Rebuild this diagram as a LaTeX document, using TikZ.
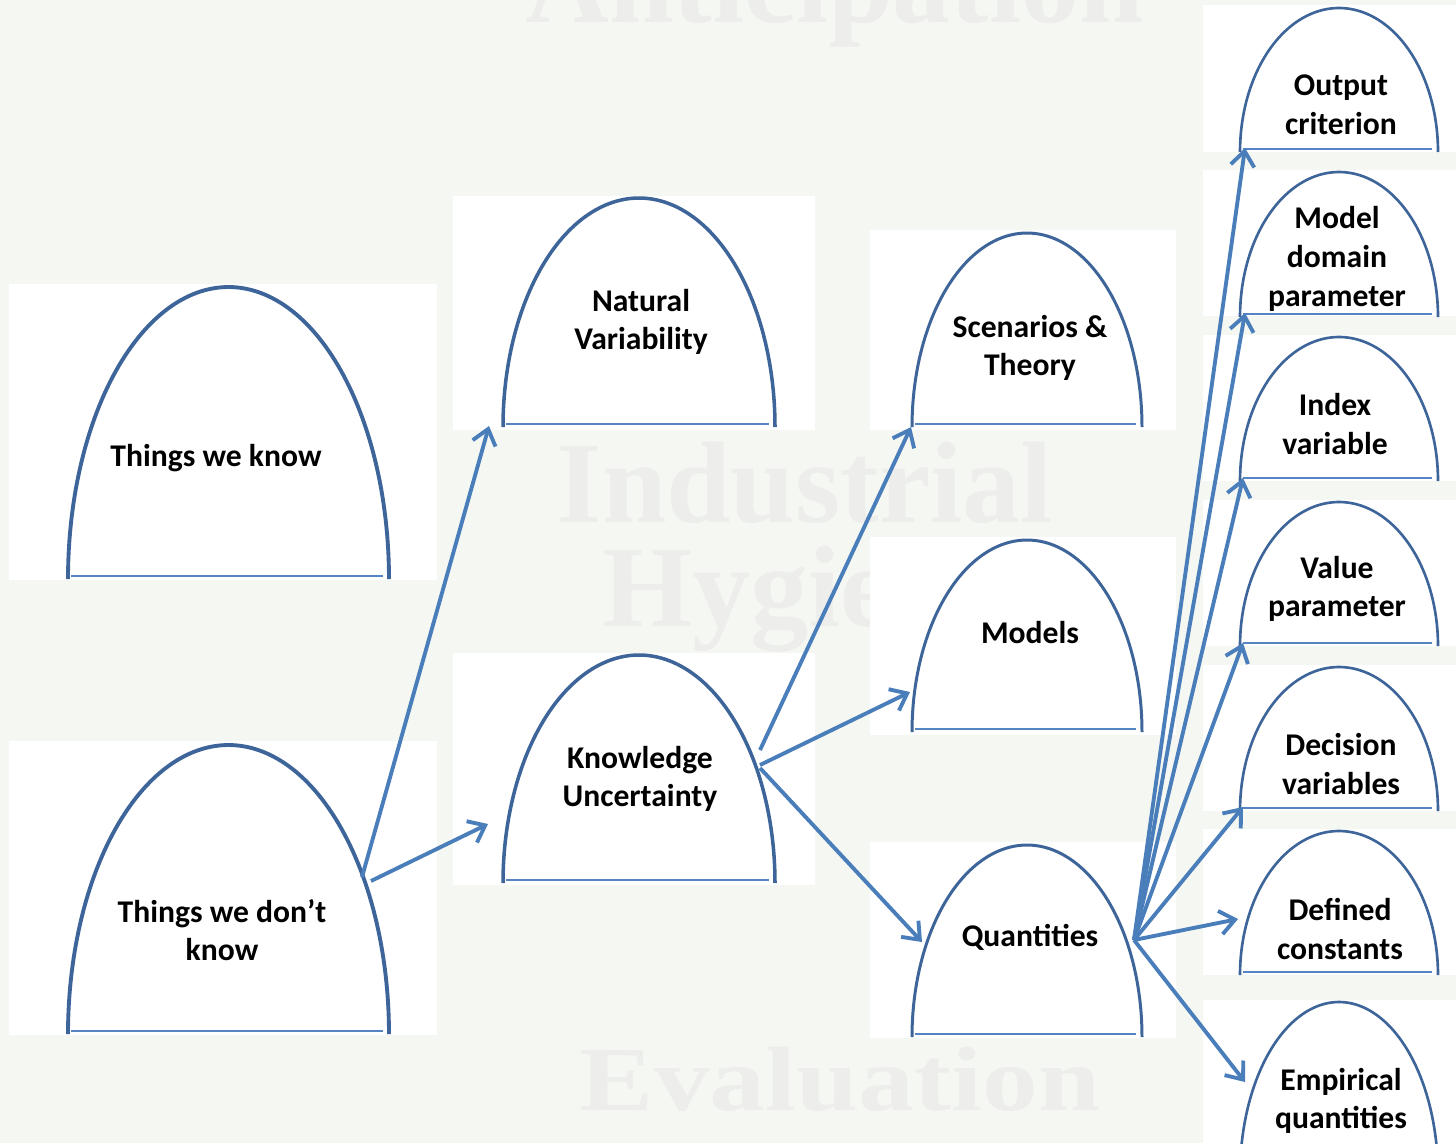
\documentclass[tikz,border=0pt]{standalone}
\usepackage{fontspec}
\setmainfont{Carlito}
\newfontfamily\wmfont{Liberation Serif}
\usetikzlibrary{arrows.meta}
\definecolor{pagebg}{RGB}{245,247,242}
\definecolor{wmgray}{RGB}{237,238,235}
\definecolor{archblue}{RGB}{62,101,153}
\definecolor{baseblue}{RGB}{84,133,194}
\definecolor{arrowblue}{RGB}{74,126,187}

% arch: left x, right x, base y, top y, line width
\newcommand\domearch[5]{%
  \draw[archblue,line width=#5] plot[domain=180:0,samples=120]
    ({(#1+#2)/2+(#2-#1)/2*cos(\x)},{#3+3-(#3+3-#4)*sin(\x)});
  \draw[floorline] (#1+3,#3) -- (#2-6,#3);}

\begin{document}
\begin{tikzpicture}[x=0.02cm,y=-0.02cm,
  panel/.style={fill=white},
  floorline/.style={draw=baseblue,line width=1.2pt},
  domelabel/.style={font=\bfseries\fontsize{18pt}{22pt}\selectfont,align=center,inner sep=0pt},
  wmark/.style={font=\wmfont\bfseries\fontsize{66pt}{59pt}\selectfont,text=wmgray,inner sep=0pt,anchor=base,align=center},
  link/.style={draw=arrowblue,line width=2.2pt,-{Straight Barb[length=8.5pt,width=13.5pt]}}]

\fill[pagebg] (0,0) rectangle (1456,1143);
\useasboundingbox (0,0) rectangle (1456,1143);

% faint background lettering
\node[wmark] (wmA) at (835,22) {Anticipation};
\node[wmark,anchor=north] (wmIH) at (805,442) {Industrial\\Hygiene};
\node[wmark,font=\wmfont\bfseries\fontsize{52pt}{56pt}\selectfont,xscale=1.22] (wmE) at (840,1110) {Evaluation};

% white panels
\fill[panel] (9,284) rectangle (437,580);
\fill[panel] (9,741) rectangle (437,1035);
\fill[panel] (453,196) rectangle (815,430);
\fill[panel] (453,653) rectangle (815,885);
\fill[panel] (870,230) rectangle (1176,430);
\fill[panel] (870,537) rectangle (1176,735);
\fill[panel] (870,842) rectangle (1176,1038);
\fill[panel] (1203,5) rectangle (1456,152);
\fill[panel] (1203,170) rectangle (1456,316);
\fill[panel] (1203,335) rectangle (1456,481);
\fill[panel] (1203,500) rectangle (1456,646);
\fill[panel] (1203,665) rectangle (1456,811);
\fill[panel] (1203,829) rectangle (1456,975);
\fill[panel] (1203,1000) rectangle (1456,1143);

% arches
\domearch{68}{389}{576}{287}{2.2pt}
\domearch{68}{389}{1031}{745}{2.2pt}
\domearch{503}{775}{424}{198}{2pt}
\domearch{503}{775}{880}{655}{2pt}
\domearch{912}{1142}{424}{233}{1.7pt}
\domearch{912}{1142}{729}{540}{1.7pt}
\domearch{912}{1142}{1034}{845}{1.7pt}
\domearch{1240}{1438}{149}{8}{1.5pt}
\domearch{1240}{1438}{314}{172}{1.5pt}
\domearch{1240}{1438}{478}{337}{1.5pt}
\domearch{1240}{1438}{643}{502}{1.5pt}
\domearch{1240}{1438}{808}{667}{1.5pt}
\domearch{1240}{1438}{972}{831}{1.5pt}
\domearch{1240}{1438}{1172}{1002}{1.5pt}

% labels
\node[domelabel] (know) at (216,458) {Things we know};
\node[domelabel] (unknown) at (222,930) {Things we don’t\\know};
\node[domelabel] (natural) at (641,322) {Natural\\Variability};
\node[domelabel] (knowledge) at (640,779) {Knowledge\\Uncertainty};
\node[domelabel] (scenarios) at (1030,348) {Scenarios \&\\Theory};
\node[domelabel] (models) at (1030,633) {Models};
\node[domelabel] (quantities) at (1030,937) {Quantities};
\node[domelabel] (output) at (1341,105) {Output\\criterion};
\node[domelabel] (domain) at (1337,259) {Model\\domain\\parameter};
\node[domelabel] (index) at (1335,424) {Index\\variable};
\node[domelabel] (value) at (1337,589) {Value\\parameter};
\node[domelabel] (decision) at (1341,764) {Decision\\variables};
\node[domelabel] (defined) at (1340,929) {Defined\\constants};
\node[domelabel] (empirical) at (1341,1101) {Empirical\\quantities};

% connector ends
\coordinate (unknownA) at (362,877);
\coordinate (unknownB) at (371,881);
\coordinate (naturalIn) at (489,426);
\coordinate (knowledgeIn) at (488,824);
\coordinate (knowledgeA) at (760,750);
\coordinate (knowledgeB) at (760,765);
\coordinate (knowledgeC) at (760,768);
\coordinate (scenariosIn) at (911,427);
\coordinate (modelsIn) at (910,692);
\coordinate (quantitiesIn) at (922,942);
\coordinate (quantitiesOut) at (1134,940);
\coordinate (outputIn) at (1245,148);
\coordinate (domainIn) at (1245,313);
\coordinate (indexIn) at (1243,478);
\coordinate (valueIn) at (1243,643);
\coordinate (decisionIn) at (1243,807);
\coordinate (definedIn) at (1238,919);
\coordinate (empiricalIn) at (1245,1082);

% connectors
\draw[link] (unknownA) -- (naturalIn);
\draw[link] (unknownB) -- (knowledgeIn);
\draw[link] (knowledgeA) -- (scenariosIn);
\draw[link] (knowledgeB) -- (modelsIn);
\draw[link] (knowledgeC) -- (quantitiesIn);
\foreach \t in {outputIn,domainIn,indexIn,valueIn,decisionIn,definedIn,empiricalIn}
  \draw[link] (quantitiesOut) -- (\t);
\end{tikzpicture}
\end{document}
